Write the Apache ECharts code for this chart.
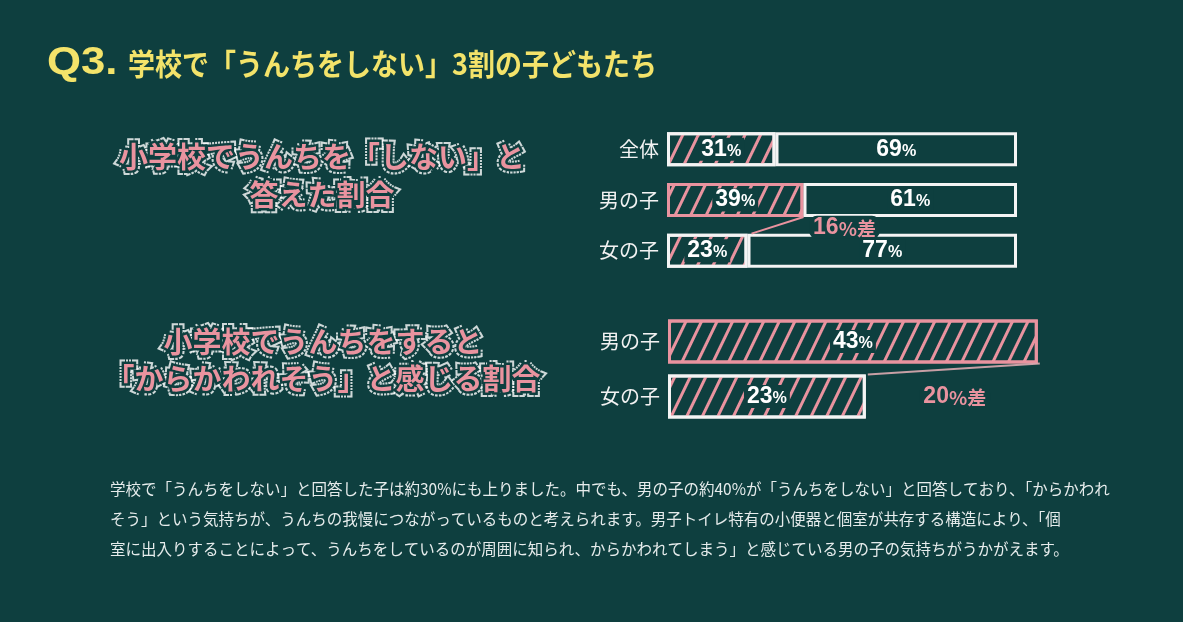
<!DOCTYPE html>
<html>
<head>
<meta charset="utf-8">
<script src="https://cdn.jsdelivr.net/npm/echarts@6/dist/echarts.min.js"></script>
<style>
html,body{margin:0;padding:0;background:#0e3f3f;}
#chart{width:1183px;height:622px;}
</style>
</head>
<body>
<div id="chart"></div>
<script>
// 小学校でうんちを「しない」と答えた割合
var groups1 = ['全体', '男の子', '女の子'];
var noPoop = [31, 39, 23];
var yesPoop = [69, 61, 77];
// 小学校でうんちをすると「からかわれそう」と感じる割合
var groups2 = ['男の子', '女の子'];
var teased = [43, 23];

var titleQ = 'Q3.';
var titleText = '学校で「うんちをしない」3割の子どもたち';
var sideLabel1 = ['小学校でうんちを「しない」と', '答えた割合'];
var sideLabel2 = ['小学校でうんちをすると', '「からかわれそう」と感じる割合'];
var bodyLines = [
  '学校で「うんちをしない」と回答した子は約30%にも上りました。中でも、男の子の約40%が「うんちをしない」と回答しており、「からかわれ',
  'そう」という気持ちが、うんちの我慢につながっているものと考えられます。男子トイレ特有の小便器と個室が共存する構造により、「個',
  '室に出入りすることによって、うんちをしているのが周囲に知られ、からかわれてしまう」と感じている男の子の気持ちがうかがえます。'
];

var BG = '#0e3f3f';
var PINK = '#e9939f';
var WHITE = '#f4f4f4';
var YELLOW = '#f3e36a';
var JP = '"Noto Sans CJK JP", sans-serif';
var NUM = '"Liberation Sans", Arial, sans-serif';

var hatch = {
  symbol: 'rect',
  symbolSize: 1,
  dashArrayX: [3, 10.5],
  dashArrayY: [1, 0],
  rotation: 0.45,
  color: PINK
};

function pctLabel(size) {
  return {
    show: true,
    position: 'inside',
    formatter: function (p) { return '{n|' + p.value + '}{p|%}'; },
    backgroundColor: BG,
    padding: [0, 3],
    rich: {
      n: { color: '#fff', fontSize: size, fontWeight: 'bold', fontFamily: NUM },
      p: { color: '#fff', fontSize: size * 0.7, fontWeight: 'bold', fontFamily: NUM, padding: [4, 0, 0, 0] }
    }
  };
}

function hatchData(values, names) {
  return values.map(function (v, i) {
    return { value: v, itemStyle: { borderColor: names[i] === '男の子' ? PINK : WHITE } };
  });
}

var chart = echarts.init(document.getElementById('chart'));

function sideText(lines, cx, ys) {
  var out = [];
  lines.forEach(function (t, i) {
    var font = { text: t, fontSize: 29, fontWeight: 'bold', fontFamily: JP, align: 'center', verticalAlign: 'middle' };
    out.push({ type: 'text', x: cx, y: ys[i], z: 50, style: Object.assign({}, font, { fill: '#fff', stroke: 'rgba(255,255,255,0.8)', lineWidth: 9, lineDash: [2, 1] }) });
    out.push({ type: 'text', x: cx, y: ys[i], z: 51, style: Object.assign({}, font, { fill: BG, stroke: BG, lineWidth: 5 }) });
    out.push({ type: 'text', x: cx, y: ys[i], z: 52, style: Object.assign({}, font, { fill: PINK }) });
  });
  return out;
}

var graphics = [
  { type: 'text', x: 47, y: 64, z: 50, scaleX: 1.15,
    style: { text: titleQ, fill: YELLOW, fontSize: 38, fontWeight: 'bold', fontFamily: NUM, verticalAlign: 'middle',
      shadowBlur: 4, shadowColor: 'rgba(243,227,106,0.6)' } },
  { type: 'text', x: 128, y: 64, z: 50, scaleX: 0.9,
    style: { text: titleText, fill: YELLOW, fontSize: 30, fontWeight: 'bold', fontFamily: JP, verticalAlign: 'middle' } }
].concat(sideText(sideLabel1, 322, [157, 195]))
 .concat(sideText(sideLabel2, 323, [342, 379]));

bodyLines.forEach(function (t, i) {
  graphics.push({ type: 'text', x: 110, y: 489 + i * 30, z: 50,
    style: { text: t, fill: '#e6ecec', fontSize: 15.5, fontFamily: JP, verticalAlign: 'middle' } });
});

var axisLabelStyle = { color: '#f2f2f2', fontSize: 20, fontFamily: JP, margin: 8 };

chart.setOption({
  backgroundColor: BG,
  animation: false,
  grid: [
    { left: 667, top: 124, width: 350, height: 152 },
    { left: 668, top: 314, width: 430, height: 110 }
  ],
  xAxis: [
    { gridIndex: 0, type: 'value', min: 0, max: 100, show: false },
    { gridIndex: 1, type: 'value', min: 0, max: 50, show: false }
  ],
  yAxis: [
    { gridIndex: 0, type: 'category', data: groups1, inverse: true,
      axisLine: { show: false }, axisTick: { show: false }, axisLabel: axisLabelStyle },
    { gridIndex: 1, type: 'category', data: groups2, inverse: true,
      axisLine: { show: false }, axisTick: { show: false }, axisLabel: axisLabelStyle }
  ],
  series: [
    { name: 'しない', type: 'bar', xAxisIndex: 0, yAxisIndex: 0, stack: 'q1', barWidth: 34,
      data: hatchData(noPoop, groups1),
      itemStyle: { color: BG, borderWidth: 3, decal: hatch },
      label: pctLabel(23) },
    { name: 'する', type: 'bar', xAxisIndex: 0, yAxisIndex: 0, stack: 'q1', barWidth: 34,
      data: yesPoop,
      itemStyle: { color: BG, borderColor: WHITE, borderWidth: 3 },
      label: pctLabel(23) },
    { name: 'からかわれそう', type: 'bar', xAxisIndex: 1, yAxisIndex: 1, barWidth: 44,
      data: hatchData(teased, groups2),
      itemStyle: { color: BG, borderWidth: 3, decal: hatch },
      label: pctLabel(23) }
  ],
  graphic: graphics
});

// 差の注釈: バーの端から位置を求める
function px(axis, value, idx) {
  return chart.convertToPixel({ xAxisIndex: axis, yAxisIndex: axis }, [value, idx]);
}
var mB = px(0, noPoop[1], 1), fB = px(0, noPoop[2], 2);
var m2 = px(1, teased[0], 0), f2 = px(1, teased[1], 1);
var h1 = 34 / 2, h2 = 44 / 2;

function diffLabel(val, x, y) {
  return { type: 'text', x: x, y: y, z: 120,
    style: {
      text: '{n|' + val + '}{p|%差}', align: 'center', verticalAlign: 'middle',
      backgroundColor: BG, padding: [0, 4], borderRadius: 8,
      rich: {
        n: { fill: PINK, fontSize: 23, fontWeight: 'bold', fontFamily: NUM },
        p: { fill: PINK, fontSize: 19, fontWeight: 'bold', fontFamily: JP, padding: [2, 0, 0, 0] }
      }
    } };
}

graphics.push(
  { type: 'line', z: 110, shape: { x1: mB[0], y1: mB[1] + h1, x2: fB[0] + 4, y2: fB[1] - h1 },
    style: { stroke: PINK, lineWidth: 2 } },
  diffLabel(noPoop[1] - noPoop[2], mB[0] + 41, (mB[1] + fB[1]) / 2 + 2),
  { type: 'line', z: 110, shape: { x1: f2[0] + 2, y1: f2[1] - h2, x2: m2[0] + 2, y2: m2[1] + h2 },
    style: { stroke: 'rgba(220,170,176,0.9)', lineWidth: 2 } },
  diffLabel(teased[0] - teased[1], (f2[0] + m2[0]) / 2 + 3, f2[1])
);
chart.setOption({ graphic: graphics }, { replaceMerge: ['graphic'] });
</script>
</body>
</html>
